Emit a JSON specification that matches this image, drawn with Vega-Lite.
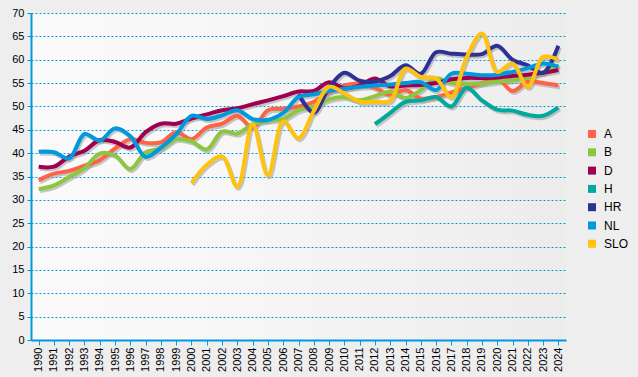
{
  "$schema": "https://vega.github.io/schema/vega-lite/v6.json",
  "width": 535,
  "height": 327,
  "autosize": {"type": "none"},
  "padding": {"left": 31, "top": 13, "right": 72, "bottom": 37},
  "background": "#eeeeee",
  "config": {
    "view": {"stroke": null, "fill": {"gradient": "linear", "x1": 0, "y1": 0, "x2": 1, "y2": 0, "stops": [{"offset": 0, "color": "#fafafa"}, {"offset": 0.3, "color": "#f8f8f8"}, {"offset": 1, "color": "#ececec"}]}},
    "font": "Liberation Sans",
    "axis": {"labelFont": "Liberation Sans", "labelFontSize": 11, "labelColor": "#000000", "domainColor": "#0099dd", "tickColor": "#0099dd", "domainWidth": 2, "title": null}
  },
  "datasets": {
    "pts": [
      {"series":"A","year":"1990","value":34.2},{"series":"A","year":"1991","value":35.6},{"series":"A","year":"1992","value":36.2},{"series":"A","year":"1993","value":37.3},{"series":"A","year":"1994","value":38.5},{"series":"A","year":"1995","value":41},{"series":"A","year":"1996","value":43},{"series":"A","year":"1997","value":42.2},{"series":"A","year":"1998","value":42.3},{"series":"A","year":"1999","value":44.5},{"series":"A","year":"2000","value":43},{"series":"A","year":"2001","value":45.5},{"series":"A","year":"2002","value":46.3},{"series":"A","year":"2003","value":48},{"series":"A","year":"2004","value":45.5},{"series":"A","year":"2005","value":49.2},{"series":"A","year":"2006","value":49.5},{"series":"A","year":"2007","value":50},{"series":"A","year":"2008","value":51},{"series":"A","year":"2009","value":53},{"series":"A","year":"2010","value":54.5},{"series":"A","year":"2011","value":54.8},{"series":"A","year":"2012","value":54},{"series":"A","year":"2013","value":52.5},{"series":"A","year":"2014","value":53.5},{"series":"A","year":"2015","value":51.7},{"series":"A","year":"2016","value":52},{"series":"A","year":"2017","value":53},{"series":"A","year":"2018","value":54},{"series":"A","year":"2019","value":55},{"series":"A","year":"2020","value":56},{"series":"A","year":"2021","value":53.3},{"series":"A","year":"2022","value":55.3},{"series":"A","year":"2023","value":55},{"series":"A","year":"2024","value":54.5},
      {"series":"B","year":"1990","value":32.3},{"series":"B","year":"1991","value":33.1},{"series":"B","year":"1992","value":34.9},{"series":"B","year":"1993","value":36.8},{"series":"B","year":"1994","value":39.9},{"series":"B","year":"1995","value":39.5},{"series":"B","year":"1996","value":36.6},{"series":"B","year":"1997","value":40.2},{"series":"B","year":"1998","value":41},{"series":"B","year":"1999","value":43},{"series":"B","year":"2000","value":42.5},{"series":"B","year":"2001","value":40.8},{"series":"B","year":"2002","value":44.6},{"series":"B","year":"2003","value":44.2},{"series":"B","year":"2004","value":46.2},{"series":"B","year":"2005","value":47},{"series":"B","year":"2006","value":47.3},{"series":"B","year":"2007","value":49.2},{"series":"B","year":"2008","value":50},{"series":"B","year":"2009","value":51.5},{"series":"B","year":"2010","value":52},{"series":"B","year":"2011","value":51.3},{"series":"B","year":"2012","value":52.2},{"series":"B","year":"2013","value":53.2},{"series":"B","year":"2014","value":51.8},{"series":"B","year":"2015","value":53.5},{"series":"B","year":"2016","value":56},{"series":"B","year":"2017","value":55},{"series":"B","year":"2018","value":54.8},{"series":"B","year":"2019","value":54.9},{"series":"B","year":"2020","value":55.3},{"series":"B","year":"2021","value":55.6},{"series":"B","year":"2022","value":56.2},{"series":"B","year":"2023","value":57.3},{"series":"B","year":"2024","value":58.8},
      {"series":"D","year":"1990","value":37.1},{"series":"D","year":"1991","value":37.1},{"series":"D","year":"1992","value":39.3},{"series":"D","year":"1993","value":40.5},{"series":"D","year":"1994","value":42.8},{"series":"D","year":"1995","value":42.4},{"series":"D","year":"1996","value":41.2},{"series":"D","year":"1997","value":44.5},{"series":"D","year":"1998","value":46.3},{"series":"D","year":"1999","value":46.3},{"series":"D","year":"2000","value":47.4},{"series":"D","year":"2001","value":48.3},{"series":"D","year":"2002","value":49.2},{"series":"D","year":"2003","value":49.6},{"series":"D","year":"2004","value":50.5},{"series":"D","year":"2005","value":51.3},{"series":"D","year":"2006","value":52.2},{"series":"D","year":"2007","value":53.2},{"series":"D","year":"2008","value":53.3},{"series":"D","year":"2009","value":55.2},{"series":"D","year":"2010","value":53.9},{"series":"D","year":"2011","value":54.5},{"series":"D","year":"2012","value":56},{"series":"D","year":"2013","value":54.3},{"series":"D","year":"2014","value":54.5},{"series":"D","year":"2015","value":54.6},{"series":"D","year":"2016","value":55},{"series":"D","year":"2017","value":55.8},{"series":"D","year":"2018","value":56.1},{"series":"D","year":"2019","value":56.1},{"series":"D","year":"2020","value":56.2},{"series":"D","year":"2021","value":56.5},{"series":"D","year":"2022","value":56.8},{"series":"D","year":"2023","value":57.2},{"series":"D","year":"2024","value":57.8},
      {"series":"H","year":"2012","value":46.2},{"series":"H","year":"2013","value":48.6},{"series":"H","year":"2014","value":51},{"series":"H","year":"2015","value":51.3},{"series":"H","year":"2016","value":52},{"series":"H","year":"2017","value":50},{"series":"H","year":"2018","value":54},{"series":"H","year":"2019","value":51.3},{"series":"H","year":"2020","value":49.3},{"series":"H","year":"2021","value":49.1},{"series":"H","year":"2022","value":48.2},{"series":"H","year":"2023","value":48},{"series":"H","year":"2024","value":49.8},
      {"series":"HR","year":"2007","value":52.6},{"series":"HR","year":"2008","value":48.7},{"series":"HR","year":"2009","value":54},{"series":"HR","year":"2010","value":57.2},{"series":"HR","year":"2011","value":55.5},{"series":"HR","year":"2012","value":55.3},{"series":"HR","year":"2013","value":56.5},{"series":"HR","year":"2014","value":58.8},{"series":"HR","year":"2015","value":57},{"series":"HR","year":"2016","value":61.6},{"series":"HR","year":"2017","value":61.3},{"series":"HR","year":"2018","value":61.1},{"series":"HR","year":"2019","value":61.2},{"series":"HR","year":"2020","value":63},{"series":"HR","year":"2021","value":60},{"series":"HR","year":"2022","value":58.8},{"series":"HR","year":"2023","value":57.2},{"series":"HR","year":"2024","value":63},
      {"series":"NL","year":"1990","value":40.3},{"series":"NL","year":"1991","value":40.2},{"series":"NL","year":"1992","value":38.9},{"series":"NL","year":"1993","value":44.1},{"series":"NL","year":"1994","value":42.7},{"series":"NL","year":"1995","value":45.3},{"series":"NL","year":"1996","value":43.6},{"series":"NL","year":"1997","value":39.2},{"series":"NL","year":"1998","value":41.2},{"series":"NL","year":"1999","value":44},{"series":"NL","year":"2000","value":48},{"series":"NL","year":"2001","value":47.3},{"series":"NL","year":"2002","value":48.1},{"series":"NL","year":"2003","value":49.2},{"series":"NL","year":"2004","value":47.3},{"series":"NL","year":"2005","value":47.1},{"series":"NL","year":"2006","value":48.6},{"series":"NL","year":"2007","value":52},{"series":"NL","year":"2008","value":52.6},{"series":"NL","year":"2009","value":53.3},{"series":"NL","year":"2010","value":53.8},{"series":"NL","year":"2011","value":54.2},{"series":"NL","year":"2012","value":54.5},{"series":"NL","year":"2013","value":54.7},{"series":"NL","year":"2014","value":55},{"series":"NL","year":"2015","value":55.2},{"series":"NL","year":"2016","value":53.5},{"series":"NL","year":"2017","value":57},{"series":"NL","year":"2018","value":57},{"series":"NL","year":"2019","value":56.7},{"series":"NL","year":"2020","value":56.8},{"series":"NL","year":"2021","value":57.4},{"series":"NL","year":"2022","value":58.2},{"series":"NL","year":"2023","value":59.2},{"series":"NL","year":"2024","value":58.5},
      {"series":"SLO","year":"2000","value":33.6},{"series":"SLO","year":"2001","value":37.5},{"series":"SLO","year":"2002","value":39.3},{"series":"SLO","year":"2003","value":32.8},{"series":"SLO","year":"2004","value":46.2},{"series":"SLO","year":"2005","value":35.2},{"series":"SLO","year":"2006","value":46.8},{"series":"SLO","year":"2007","value":43.2},{"series":"SLO","year":"2008","value":49},{"series":"SLO","year":"2009","value":54.2},{"series":"SLO","year":"2010","value":52.8},{"series":"SLO","year":"2011","value":51},{"series":"SLO","year":"2012","value":51},{"series":"SLO","year":"2013","value":51.2},{"series":"SLO","year":"2014","value":58.1},{"series":"SLO","year":"2015","value":56.3},{"series":"SLO","year":"2016","value":56},{"series":"SLO","year":"2017","value":52},{"series":"SLO","year":"2018","value":60.5},{"series":"SLO","year":"2019","value":65.6},{"series":"SLO","year":"2020","value":57.4},{"series":"SLO","year":"2021","value":59.2},{"series":"SLO","year":"2022","value":54.2},{"series":"SLO","year":"2023","value":60.6},{"series":"SLO","year":"2024","value":60}
    ]
  },
  "data": {"name": "pts"},
  "encoding": {
    "x": {"field": "year", "type": "ordinal", "scale": {"type": "point", "padding": 0.5},
      "axis": {"labelAngle": -90, "tickSize": 5, "grid": false, "labelPadding": 2}},
    "y": {"field": "value", "type": "quantitative", "scale": {"domain": [0, 70], "nice": false},
      "axis": {"values": [0,5,10,15,20,25,30,35,40,45,50,55,60,65,70], "grid": true, "gridColor": "#0099dd", "gridDash": [2, 2], "gridWidth": 1, "tickSize": 4, "labelPadding": 3}}
  },
  "layer": [
    {
      "mark": {"type": "line", "interpolate": "catmull-rom", "strokeWidth": 4, "color": "#9a9a9a", "opacity": 0.55, "xOffset": 1.5, "yOffset": 2},
      "encoding": {"detail": {"field": "series"}}
    },
    {
      "mark": {"type": "line", "interpolate": "catmull-rom", "strokeWidth": 4},
      "encoding": {
        "color": {"field": "series", "type": "nominal",
          "scale": {"domain": ["A","B","D","H","HR","NL","SLO"], "range": ["#ff6347","#8dc63f","#a0004f","#00a99d","#2e3192","#0099dd","#ffc20e"]},
          "legend": {"title": null, "orient": "none", "legendX": 555, "legendY": 115, "symbolType": "square", "symbolSize": 64, "symbolStrokeWidth": 0, "labelFontSize": 12, "labelFont": "Liberation Sans", "labelColor": "#000000", "rowPadding": 6.3, "labelOffset": 6,
            "encode": {"symbols": {"update": {"fill": {"scale": "color", "field": "value"}, "fillOpacity": {"value": 1}}}}}
        }
      }
    }
  ]
}
